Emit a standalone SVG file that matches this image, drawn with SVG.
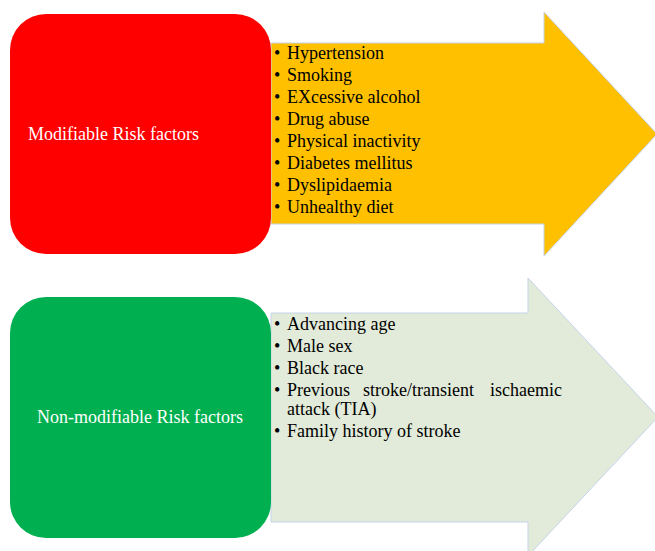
<svg xmlns="http://www.w3.org/2000/svg" width="655" height="551" viewBox="0 0 655 551">
<style>
.t{font-family:"Liberation Serif","Times New Roman",serif;font-size:18px;fill:#000}
.w{font-family:"Liberation Serif","Times New Roman",serif;font-size:18px;fill:#fff}
.arr{stroke:#c5d3ea;stroke-width:1}
</style>
<rect width="655" height="551" fill="#fff"/>
<g id="arrow-modifiable">
<polygon class="arr" fill="#ffc000" points="271,43 544,43 544,12 657,134 544,256 544,224 271,224"/>
<text class="t"><tspan x="274" y="59">•</tspan><tspan x="287" y="59">Hypertension</tspan></text>
<text class="t"><tspan x="274" y="81">•</tspan><tspan x="287" y="81">Smoking</tspan></text>
<text class="t"><tspan x="274" y="103">•</tspan><tspan x="287" y="103">EXcessive alcohol</tspan></text>
<text class="t"><tspan x="274" y="125">•</tspan><tspan x="287" y="125">Drug abuse</tspan></text>
<text class="t"><tspan x="274" y="147">•</tspan><tspan x="287" y="147">Physical inactivity</tspan></text>
<text class="t"><tspan x="274" y="169">•</tspan><tspan x="287" y="169">Diabetes mellitus</tspan></text>
<text class="t"><tspan x="274" y="191">•</tspan><tspan x="287" y="191">Dyslipidaemia</tspan></text>
<text class="t"><tspan x="274" y="213">•</tspan><tspan x="287" y="213">Unhealthy diet</tspan></text>
</g>
<g id="box-modifiable">
<rect x="10" y="14" width="261" height="240" rx="36" ry="36" fill="#ff0000"/>
<text class="w" x="28" y="140">Modifiable Risk factors</text>
</g>
<g id="arrow-nonmodifiable">
<polygon class="arr" fill="#e2ebd9" points="271,313 528,313 528,278 658,417 528,556 528,522 271,522"/>
<text class="t"><tspan x="274" y="330">•</tspan><tspan x="287" y="330">Advancing age</tspan></text>
<text class="t"><tspan x="274" y="352">•</tspan><tspan x="287" y="352">Male sex</tspan></text>
<text class="t"><tspan x="274" y="374">•</tspan><tspan x="287" y="374">Black race</tspan></text>
<text class="t"><tspan x="274" y="396">•</tspan><tspan x="287" y="396">Previous</tspan></text>
<text class="t" x="363" y="396">stroke/transient</text>
<text class="t" x="562" y="396" text-anchor="end">ischaemic</text>
<text class="t" x="287" y="415">attack (TIA)</text>
<text class="t"><tspan x="274" y="437">•</tspan><tspan x="287" y="437">Family history of stroke</tspan></text>
</g>
<g id="box-nonmodifiable">
<rect x="10" y="297" width="261" height="241" rx="36" ry="36" fill="#00b050"/>
<text class="w" x="37" y="423">Non-modifiable Risk factors</text>
</g>
<g id="connectors"/>
</svg>
